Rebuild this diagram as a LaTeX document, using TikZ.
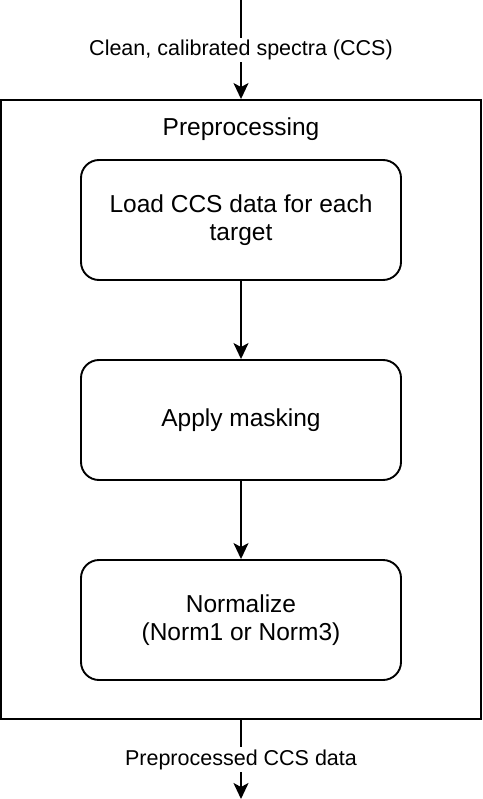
\documentclass[tikz,border=0pt]{standalone}
\usepackage{fontspec}
\setmainfont{Liberation Sans}
\usetikzlibrary{arrows.meta}
\begin{document}
\begin{tikzpicture}[x=1pt,y=-1pt,line width=1.9pt,
  stepbox/.style={draw, rounded corners=18pt, minimum width=320pt, minimum height=120pt,
    align=center, inner sep=0pt, font=\fontsize{24.5}{28.5}\selectfont},
  arr/.style={-{Stealth[length=16pt,width=15pt,inset=4pt]}},
  lbl/.style={fill=white, inner sep=2pt, font=\fontsize{21.5}{25}\selectfont}]
\useasboundingbox (0,0) rectangle (482,799);
\node[draw, minimum width=480pt, minimum height=619pt, inner sep=0pt] (outer) at (241,409.5) {};
\node[font=\fontsize{24.5}{28}\selectfont] (title) at (241,129) {Preprocessing};
\node[stepbox] (b1) at (241,220) {Load CCS data for each\\target};
\node[stepbox] (b2) at (241,420) {Apply masking};
\node[stepbox] (b3) at (241,620) {Normalize\\(Norm1 or Norm3)};
\coordinate (top) at (241,0);
\coordinate (bot) at (241,799);
\draw[arr] (top) -- (outer.north) node[lbl, pos=0.5] {Clean, calibrated spectra (CCS)};
\draw[arr] (b1) -- (b2);
\draw[arr] (b2) -- (b3);
\draw[arr] (outer.south) -- (bot) node[lbl, pos=0.5] {Preprocessed CCS data};
\end{tikzpicture}
\end{document}
